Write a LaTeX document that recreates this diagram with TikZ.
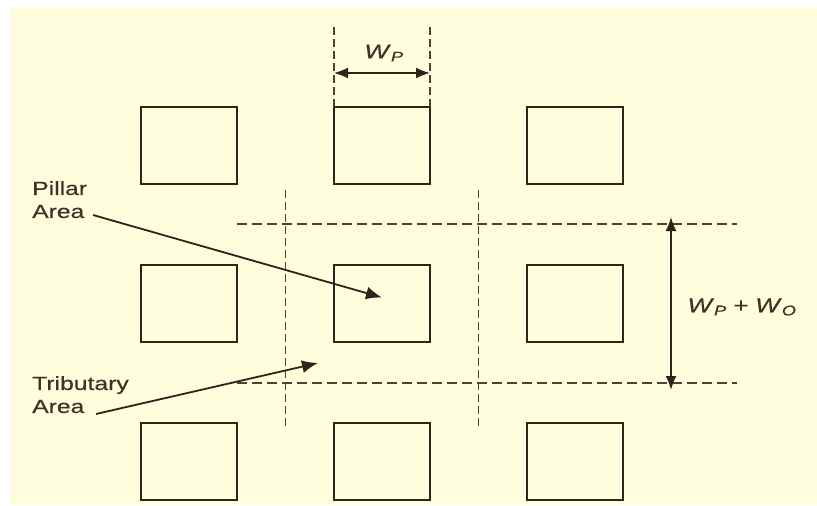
\documentclass[tikz,border=0pt]{standalone}
\usepackage{fontspec}
\setmainfont[FakeStretch=1.3, FakeBold=0.5]{Liberation Sans}
\usetikzlibrary{arrows.meta, positioning, calc}
\definecolor{paper}{HTML}{FFFDDC}
\definecolor{ink}{HTML}{2B251C}
\definecolor{txt}{HTML}{3B3428}
\definecolor{guidec}{HTML}{4D4235}

\begin{document}
\begin{tikzpicture}[x=1pt, y=-1pt,
  pillar/.style={draw=ink, line width=2.8pt, minimum width=96pt, minimum height=77pt, inner sep=0pt, outer sep=0pt},
  guide/.style={draw=guidec, line width=1.9pt, dash pattern=on 10pt off 5pt},
  vguide/.style={draw=guidec, line width=1.6pt, dash pattern=on 8pt off 4pt},
  arr/.style={draw=ink, line width=1.8pt, -{Latex[length=16pt, width=13pt]}},
  dim/.style={draw=ink, line width=1.7pt, {Latex[length=14pt, width=11pt]}-{Latex[length=14pt, width=11pt]}},
  lbl/.style={text=txt, font=\fontsize{19}{23}\selectfont, align=left, inner sep=0pt},
  sym/.style={text=txt, font=\fontsize{20}{24}\selectfont, inner sep=0pt}]
\useasboundingbox (0,0) rectangle (817,506);
\fill[white] (0,0) rectangle (817,506);
\fill[paper] (10,7) rectangle (817,505);
% pillars
\node[pillar] (p11) at (189,145.5) {};
\node[pillar, right=97pt of p11] (p12) {};
\node[pillar, right=97pt of p12] (p13) {};
\node[pillar, below=81pt of p11] (p21) {};
\node[pillar, right=97pt of p21] (p22) {};
\node[pillar, right=97pt of p22] (p23) {};
\node[pillar, below=81pt of p21] (p31) {};
\node[pillar, right=97pt of p31] (p32) {};
\node[pillar, right=97pt of p32] (p33) {};
% tributary area guides
\coordinate (vl1) at ($(p11.east)!0.5!(p12.west) + (0,44.5)$);
\coordinate (vl2) at ($(p31.east)!0.5!(p32.west) + (0,-33)$);
\coordinate (vr1) at ($(p12.east)!0.5!(p13.west) + (0,44.5)$);
\coordinate (vr2) at ($(p32.east)!0.5!(p33.west) + (0,-33)$);
\coordinate (ht1) at (237,224);
\coordinate (ht2) at (737,224);
\coordinate (hb1) at (237,383);
\coordinate (hb2) at (737,383);
\draw[vguide] (vl1) -- (vl2);
\draw[vguide] (vr1) -- (vr2);
\draw[guide] (ht1) -- (ht2);
\draw[guide] (hb1) -- (hb2);
% pillar width
\coordinate (wl) at ($(p12.north west) + (0,-80)$);
\coordinate (wr) at ($(p12.north east) + (0,-80)$);
\draw[vguide] (wl) -- (p12.north west);
\draw[vguide] (wr) -- (p12.north east);
\coordinate (wa) at ($(p12.north west) + (0,-34)$);
\coordinate (wb) at ($(p12.north east) + (0,-34)$);
\draw[dim] (wa) -- (wb);
\node[sym] (wp) at (384,53) {\textit{W}\textsubscript{\textit{P}}};
% centre spacing
\coordinate (da) at (671,217);
\coordinate (db) at (671,390);
\draw[dim] (da) -- (db);
\node[sym] (wpo) at (742,307) {\textit{W}\textsubscript{\textit{P}}\,\,+\,\,\textit{W}\textsubscript{\textit{O}}};
% callouts
\node[lbl, anchor=north west] (pil) at (32,181) {Pillar\\Area};
\coordinate (pilS) at (93,215);
\coordinate (pilT) at ($(p22.center) + (0,-6)$);
\draw[arr] (pilS) -- (pilT);
\node[lbl, anchor=north west] (trib) at (32,376) {Tributary\\Area};
\coordinate (tribS) at (96,414);
\coordinate (tribT) at (318,363);
\draw[arr] (tribS) -- (tribT);
\end{tikzpicture}
\end{document}
